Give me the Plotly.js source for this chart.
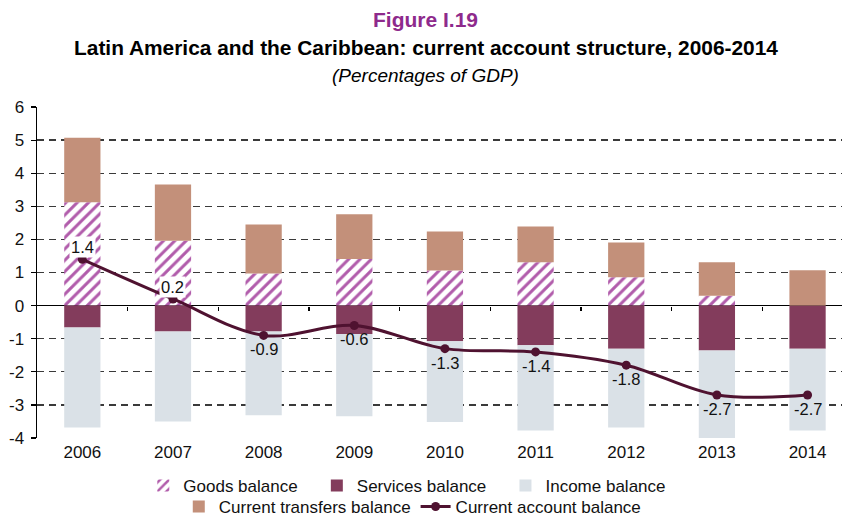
<!DOCTYPE html>
<html>
<head>
<meta charset="utf-8">
<script src="https://cdn.plot.ly/plotly-3.0.1.min.js"></script>
<style>html,body{margin:0;padding:0;background:#fff;}#chart{width:842px;height:516px;}</style>
</head>
<body>
<div id="chart"></div>
<script>
const years = ["2006","2007","2008","2009","2010","2011","2012","2013","2014"];
const goodsBalance = [3.12, 1.96, 0.97, 1.41, 1.06, 1.31, 0.86, 0.30, 0.0];
const servicesBalance = [-0.66, -0.78, -0.78, -0.86, -1.08, -1.20, -1.30, -1.36, -1.30];
const incomeBalance = [-3.02, -2.72, -2.53, -2.48, -2.44, -2.57, -2.38, -2.64, -2.47];
const transfersBalance = [1.95, 1.70, 1.48, 1.35, 1.18, 1.08, 1.05, 1.01, 1.07];
const currentAccount = [1.4, 0.2, -0.9, -0.6, -1.3, -1.4, -1.8, -2.7, -2.7];
const yTicks = [-4, -3, -2, -1, 0, 1, 2, 3, 4, 5, 6];

const FONT = "Liberation Sans, Arial, sans-serif";
const barW = 0.40;
const PAD = "\u00A0\u00A0\u00A0";

const traces = [
  {type:"bar", name:"Goods balance" + PAD, x:years, y:goodsBalance, width:barW,
   marker:{color:"#ffffff", line:{width:0}, pattern:{shape:"/", fgcolor:"#b15cab", bgcolor:"#ffffff", size:8, solidity:0.38}},
   legend:"legend", hoverinfo:"skip"},
  {type:"bar", name:"Services balance" + PAD, x:years, y:servicesBalance, width:barW,
   marker:{color:"#833c5c", line:{width:0}}, legend:"legend", hoverinfo:"skip"},
  {type:"bar", name:"Income balance", x:years, y:incomeBalance, width:barW,
   marker:{color:"#dae1e7", line:{width:0}}, legend:"legend", hoverinfo:"skip"},
  {type:"bar", name:"Current transfers balance", x:years, y:transfersBalance, width:barW,
   marker:{color:"#c3907a", line:{width:0}}, legend:"legend2", hoverinfo:"skip"},
  {type:"scatter", mode:"lines+markers", name:"Current account balance", x:years, y:currentAccount,
   line:{color:"#4f1230", width:3, shape:"spline", smoothing:1},
   marker:{color:"#4f1230", size:9}, legend:"legend2", hoverinfo:"skip"}
];

const annotations = [
  {text:"<b>Figure I.19</b>", xref:"paper", yref:"paper", x:0.483, y:1, yshift:88, xanchor:"center", yanchor:"middle", showarrow:false,
   font:{family:FONT, size:21, color:"#8e2a8c"}},
  {text:"<b>Latin America and the Caribbean: current account structure, 2006-2014</b>", xref:"paper", yref:"paper", x:0.483, y:1, yshift:60, xanchor:"center", yanchor:"middle", showarrow:false,
   font:{family:FONT, size:20.9, color:"#000"}},
  {text:"<i>(Percentages of GDP)</i>", xref:"paper", yref:"paper", x:0.483, y:1, yshift:32, xanchor:"center", yanchor:"middle", showarrow:false,
   font:{family:FONT, size:19, color:"#000"}}
];
currentAccount.forEach((v, i) => {
  const up = v > 0;
  annotations.push({
    x: i, y: v, xref:"x", yref:"y", text: v.toFixed(1), showarrow:false,
    xanchor:"center", yanchor: up ? "bottom" : "top", yshift: up ? 1 : -3,
    bgcolor: up ? "#ffffff" : "rgba(0,0,0,0)", borderpad: 1,
    font:{family:FONT, size:16.5, color:"#111"}
  });
});

const layout = {
  width:842, height:516,
  margin:{l:37, r:0, t:107, b:78},
  paper_bgcolor:"#fff", plot_bgcolor:"#fff",
  barmode:"relative", bargap:0.6,
  font:{family:FONT, size:16.5, color:"#111"},
  showlegend:true,
  xaxis:{type:"category", range:[-0.5, 8.38], showgrid:false, zeroline:false, showline:false,
         ticks:"", ticklabelstandoff:2, tickfont:{size:17, color:"#111"}, fixedrange:true},
  xaxis2:{type:"linear", range:[-0.5, 8.38], overlaying:"x", anchor:"free", position:0.4,
          showgrid:false, zeroline:false, showline:false, ticks:"outside", ticklen:4, tickwidth:1.2, tickcolor:"#000",
          tickvals:[0.5,1.5,2.5,3.5,4.5,5.5,6.5,7.5], showticklabels:false},
  yaxis:{range:[-4, 6], tickvals:yTicks, ticktext:yTicks.map(String), showgrid:true, gridcolor:"#3a3a3a", gridwidth:1.3, griddash:"7px,5px",
         zeroline:true, zerolinecolor:"#000", zerolinewidth:1.5,
         showline:true, linecolor:"#000", linewidth:1.5, ticks:"outside", ticklen:5, tickcolor:"#000", tickwidth:1.2,
         ticklabelstandoff:3, tickfont:{size:17, color:"#111"}, fixedrange:true},
  legend:{orientation:"h", x:0.46, xanchor:"center", yref:"container", y:1-486/516, yanchor:"middle",
          font:{family:FONT, size:17, color:"#111"}, itemwidth:30, tracegroupgap:0, bgcolor:"rgba(0,0,0,0)"},
  legend2:{orientation:"h", x:0.4668, xanchor:"center", yref:"container", y:1-507/516, yanchor:"middle",
          font:{family:FONT, size:17, color:"#111"}, itemwidth:30, tracegroupgap:0, bgcolor:"rgba(0,0,0,0)"},
  annotations: annotations
};

traces.push({type:"scatter", x:[0], y:[0], xaxis:"x2", mode:"none", showlegend:false, hoverinfo:"skip"});

Plotly.newPlot("chart", traces, layout, {displayModeBar:false, staticPlot:true});
</script>
</body>
</html>
